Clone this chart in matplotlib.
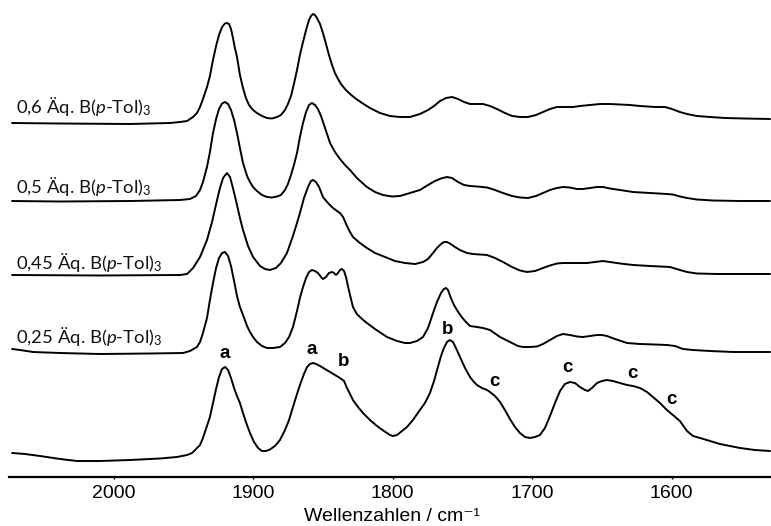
import matplotlib
matplotlib.use("Agg")
import matplotlib.pyplot as plt

plt.rcParams['mathtext.fontset'] = 'custom'
plt.rcParams['mathtext.rm'] = 'Lato'
plt.rcParams['mathtext.it'] = 'Lato:italic'
plt.rcParams['mathtext.bf'] = 'Lato:bold'

# ---------------- data: (wavenumber / cm-1, relative intensity) ----------------
spec_06 = [(2072.7, 0), (2038.3, -0.5), (1988.2, -1), (1959.5, 0), (1952.3, 1), (1947.3, 2),
           (1943.0, 6), (1940.2, 10), (1938.0, 16), (1935.9, 24), (1933.0, 36), (1930.9, 47),
           (1928.7, 63), (1926.5, 77), (1924.4, 88), (1922.2, 96), (1920.1, 99.5), (1918.7, 100),
           (1917.2, 99), (1915.8, 94), (1914.4, 85), (1913.0, 75), (1911.5, 66), (1909.4, 48),
           (1907.2, 35), (1905.1, 25), (1902.9, 18), (1900.0, 13), (1897.2, 10), (1893.6, 7),
           (1890.0, 5), (1886.4, 4.5), (1882.8, 6), (1880.0, 8), (1877.1, 13), (1875.0, 19),
           (1872.8, 27), (1870.7, 39), (1868.5, 53), (1866.4, 68), (1864.2, 81), (1862.0, 93),
           (1859.9, 103), (1858.5, 107), (1857.0, 109), (1855.6, 108), (1854.2, 105), (1852.0, 99),
           (1849.9, 90), (1847.7, 79), (1845.6, 68), (1843.4, 58), (1841.3, 50), (1839.1, 44),
           (1837.0, 39), (1834.1, 34), (1830.5, 29), (1827.0, 25), (1821.9, 20), (1816.2, 15),
           (1809.0, 10), (1801.9, 7), (1794.7, 6), (1787.5, 6), (1780.4, 9), (1774.6, 13),
           (1770.3, 17), (1766.0, 22), (1761.7, 25), (1757.4, 26), (1753.1, 24), (1748.8, 21),
           (1744.5, 19), (1739.5, 19), (1735.2, 19), (1730.2, 17), (1725.2, 14), (1719.5, 10),
           (1714.4, 7), (1708.7, 6), (1703.0, 6), (1697.2, 8), (1692.2, 11), (1687.2, 14),
           (1682.2, 16), (1676.5, 16), (1670.7, 16), (1665.7, 17), (1658.5, 18), (1651.4, 19),
           (1644.2, 19), (1637.0, 18.5), (1629.9, 18), (1622.7, 17), (1611.9, 16), (1604.8, 16),
           (1599.8, 14), (1594.1, 11), (1589.0, 9), (1581.9, 7), (1572.5, 6), (1561.8, 5),
           (1547.5, 4.5), (1529.5, 4)]

spec_05 = [(2072.7, 0), (2038.3, -0.5), (1988.2, 0), (1952.3, 1), (1945.2, 2), (1940.9, 5),
           (1938.0, 11), (1935.9, 19), (1933.0, 34), (1930.9, 49), (1928.7, 68), (1926.5, 82),
           (1924.4, 92), (1922.2, 97.5), (1920.1, 99), (1917.9, 97), (1915.8, 91), (1913.6, 81),
           (1911.5, 68), (1909.4, 53), (1907.2, 38), (1904.3, 25), (1902.2, 19), (1900.0, 14),
           (1897.2, 10), (1893.6, 6), (1890.0, 4), (1886.4, 3.5), (1882.8, 4.5), (1880.0, 6),
           (1877.1, 11), (1875.0, 17), (1872.8, 26), (1870.7, 36), (1868.5, 48), (1866.4, 64),
           (1864.2, 78), (1862.0, 89), (1859.9, 96), (1857.8, 98), (1855.6, 96), (1853.5, 92),
           (1851.3, 85), (1848.4, 73), (1844.8, 58), (1841.3, 49), (1837.7, 42), (1834.1, 36),
           (1830.5, 31), (1825.6, 23), (1818.4, 14), (1812.6, 9), (1806.9, 6), (1800.4, 4.5),
           (1794.7, 5), (1787.5, 8), (1780.4, 11), (1774.6, 16), (1769.6, 20), (1765.3, 22.5),
           (1761.0, 24), (1757.4, 23), (1753.1, 19), (1748.8, 16), (1744.5, 15), (1739.5, 14.5),
           (1732.3, 13.5), (1726.6, 11), (1720.9, 8), (1714.4, 5), (1708.7, 3.5), (1703.0, 3),
           (1697.2, 5), (1692.2, 8), (1687.2, 11), (1682.2, 13), (1677.9, 14), (1672.9, 13.5),
           (1667.9, 12), (1663.6, 12), (1658.5, 13), (1653.5, 14), (1649.2, 14), (1644.2, 12.5),
           (1637.0, 11), (1627.7, 9), (1615.5, 8), (1603.4, 7), (1599.1, 6.5), (1594.1, 4.5),
           (1589.0, 3), (1581.9, 1.5), (1570.4, 0.5), (1551.0, 0), (1529.5, 0)]

spec_045 = [(2072.7, 0), (2009.7, -0.5), (1952.3, 0), (1947.3, 1), (1943.0, 7), (1938.0, 18),
            (1933.0, 35), (1929.4, 53), (1925.8, 75), (1923.7, 87), (1921.5, 97), (1918.7, 102),
            (1916.5, 98), (1914.4, 87), (1911.5, 70), (1909.4, 57), (1907.2, 45), (1903.6, 29),
            (1900.0, 18), (1895.0, 9), (1891.4, 6), (1887.9, 5), (1883.6, 7), (1880.0, 12),
            (1875.7, 22), (1871.4, 39), (1868.5, 52), (1866.4, 62), (1863.5, 77), (1860.6, 88),
            (1858.5, 94), (1857.0, 95), (1854.9, 93), (1852.7, 88), (1849.9, 78), (1846.3, 72),
            (1842.7, 67), (1839.8, 64), (1837.7, 62), (1835.5, 58), (1832.7, 49), (1830.5, 43),
            (1828.4, 38), (1823.4, 32), (1818.4, 27), (1812.6, 22), (1805.4, 18), (1798.3, 14),
            (1791.1, 12), (1783.9, 11), (1778.2, 13), (1774.6, 16), (1771.0, 22), (1768.2, 27),
            (1765.3, 31), (1763.2, 33), (1761.0, 33), (1758.9, 31.5), (1755.3, 28), (1751.7, 25),
            (1746.7, 22), (1742.4, 21), (1737.4, 20.5), (1732.3, 20), (1726.6, 17), (1720.9, 13),
            (1714.4, 8), (1708.7, 4.5), (1703.7, 3), (1697.9, 4), (1692.2, 7), (1687.2, 9.5),
            (1682.2, 11.5), (1677.9, 12), (1672.9, 12), (1665.7, 12), (1660.7, 12), (1655.0, 13),
            (1649.2, 14), (1644.2, 13), (1637.0, 11.5), (1627.7, 10), (1615.5, 9), (1601.2, 8),
            (1594.1, 5), (1589.0, 3), (1581.9, 1.5), (1567.5, 1), (1529.5, 1)]

spec_025 = [(2072.7, 5), (2067.0, 4), (2057.7, 2), (2038.3, 1), (2009.7, 0), (1973.8, 0.5),
            (1950.2, 1), (1945.2, 3), (1940.2, 7), (1938.0, 12), (1935.9, 21), (1933.0, 36),
            (1930.9, 54), (1928.7, 71), (1926.5, 86), (1924.4, 96), (1922.2, 101), (1920.1, 102),
            (1917.9, 98), (1915.8, 88), (1913.6, 73), (1911.5, 58), (1909.4, 47), (1907.2, 39),
            (1904.3, 28), (1902.2, 22), (1900.0, 17), (1897.2, 12), (1893.6, 8), (1890.0, 6),
            (1885.7, 6), (1880.7, 7), (1877.1, 11), (1874.2, 17), (1871.4, 27), (1868.5, 43),
            (1866.4, 56), (1864.2, 67), (1862.0, 76), (1859.9, 82), (1857.8, 84), (1855.6, 83),
            (1853.5, 81), (1851.3, 77), (1849.9, 75), (1847.7, 77), (1845.6, 81), (1843.4, 82),
            (1842.0, 81), (1840.6, 79), (1839.1, 81), (1837.7, 84), (1836.3, 85), (1834.8, 83),
            (1833.4, 77), (1832.0, 68), (1830.5, 59), (1828.4, 47), (1825.6, 40), (1821.9, 35),
            (1818.4, 31), (1812.6, 25), (1804.0, 17), (1796.8, 13), (1791.1, 11), (1787.5, 11),
            (1782.5, 13), (1778.2, 17), (1774.6, 26), (1771.0, 41), (1768.2, 52), (1765.3, 61),
            (1763.2, 65), (1761.7, 66), (1760.3, 64), (1758.2, 56), (1756.0, 49), (1753.9, 44),
            (1751.0, 38), (1748.1, 33), (1744.5, 28), (1739.5, 27), (1735.2, 26), (1730.2, 24),
            (1723.0, 17), (1715.9, 12), (1710.1, 8), (1706.6, 7), (1701.5, 7), (1696.5, 7.5),
            (1692.2, 10), (1687.2, 14), (1682.2, 18), (1677.9, 20), (1672.9, 19), (1667.9, 17.5),
            (1663.6, 17), (1658.5, 18), (1653.5, 19), (1649.9, 19), (1646.4, 18), (1640.6, 15),
            (1632.0, 11), (1622.7, 10), (1611.9, 9.5), (1603.4, 9), (1597.6, 8), (1591.9, 5),
            (1584.7, 4), (1572.5, 3), (1556.0, 2), (1529.5, 2)]

spec_ref = [(2072.7, 8), (2063.4, 7), (2052.7, 5), (2038.3, 2), (2026.1, 0), (2009.7, 0),
            (1988.2, 1), (1966.7, 2.5), (1954.5, 4), (1947.3, 6), (1943.7, 8), (1940.9, 12),
            (1938.0, 16), (1935.9, 23), (1933.0, 35), (1930.9, 44), (1928.7, 58), (1926.5, 72),
            (1924.4, 84), (1922.2, 92), (1920.1, 94), (1917.9, 91), (1915.8, 83), (1913.6, 73),
            (1911.5, 65), (1909.4, 58), (1907.2, 48), (1905.1, 39), (1902.2, 28), (1899.3, 19),
            (1896.4, 13), (1893.6, 10), (1890.7, 10), (1887.9, 11.5), (1884.3, 15), (1880.7, 21),
            (1877.1, 31), (1874.2, 41), (1871.4, 54), (1868.5, 67), (1866.4, 76), (1863.5, 87),
            (1861.3, 94), (1859.2, 97), (1857.0, 98), (1854.9, 97), (1852.0, 95), (1848.4, 92),
            (1844.8, 89), (1841.3, 86), (1837.7, 83), (1834.8, 80), (1832.7, 73), (1830.5, 67),
            (1828.4, 61), (1824.8, 54), (1821.2, 48), (1816.2, 41), (1811.2, 35), (1806.2, 30),
            (1801.9, 26), (1799.7, 25), (1796.8, 26), (1793.3, 30), (1789.7, 34), (1785.4, 41),
            (1780.4, 51), (1776.8, 58), (1773.2, 68), (1770.3, 80), (1767.5, 94), (1765.3, 105),
            (1763.2, 113), (1761.0, 119), (1758.9, 121), (1756.7, 119), (1754.6, 113), (1751.7, 104),
            (1748.1, 93), (1744.5, 84), (1741.7, 79), (1739.5, 76), (1736.0, 73), (1732.3, 71),
            (1730.2, 69), (1726.6, 65), (1723.0, 59), (1719.5, 51), (1715.9, 42), (1712.3, 34),
            (1708.7, 28), (1705.1, 24), (1701.5, 23), (1697.9, 24), (1694.4, 26), (1690.8, 33),
            (1687.2, 45), (1683.6, 58), (1680.0, 70), (1676.5, 77), (1672.9, 79), (1669.3, 78),
            (1665.7, 74), (1662.1, 71), (1660.0, 70), (1657.1, 73), (1653.5, 78), (1649.9, 80),
            (1646.4, 81), (1642.1, 80), (1637.0, 78), (1632.0, 76), (1627.7, 75), (1622.7, 73),
            (1617.7, 69), (1613.4, 64), (1608.4, 58), (1603.4, 51), (1599.1, 46), (1594.1, 40),
            (1589.0, 30), (1584.7, 25), (1579.7, 23), (1572.5, 20), (1565.4, 17), (1558.2, 15),
            (1551.0, 13), (1540.3, 11), (1529.5, 10)]

spectra = [spec_06, spec_05, spec_045, spec_025, spec_ref]
labels = ["0,6", "0,5", "0,45", "0,25", None]

peak_letters = ["a", "a", "b", "b", "c", "c", "c", "c"]
peak_wn = [1920.1, 1857.8, 1835.5, 1760.3, 1727.3, 1675.0, 1628.4, 1599.8]

xticks = [2000, 1900, 1800, 1700, 1600]

# ---------------- layout ----------------
offsets = [354, 276, 202, 123, 16]
label_y = [364, 284, 208, 134]
peak_y = [123, 128, 115, 148, 95, 110, 103, 77]

fig = plt.figure(figsize=(7.71, 5.26), dpi=100)
ax = fig.add_axes([9 / 771, 49 / 526, 762 / 771, 477 / 526])

for spec, off in zip(spectra, offsets):
    w = [p[0] for p in spec]
    iv = [p[1] + off for p in spec]
    ax.plot(w, iv, color='black', lw=1.4,
            solid_joinstyle='round', solid_capstyle='round')

for lab, y in zip(labels, label_y):
    if lab is None:
        continue
    ax.text(2069.9, y, lab + r" Äq. B($\mathit{p}$-Tol)$_3$", fontsize=13.3,
            family='Lato', ha='left', va='baseline', color='#111111')

for t, w, y in zip(peak_letters, peak_wn, peak_y):
    ax.text(w, y, t, fontsize=13.5, family='Liberation Sans', fontweight='bold',
            ha='center', va='center')

ax.set_xlim(2074.9, 1528.8)
ax.set_ylim(0, 477)
for s in ['top', 'left', 'right']:
    ax.spines[s].set_visible(False)
ax.spines['bottom'].set_linewidth(1.6)
ax.set_yticks([])
ax.set_xticks(xticks)
ax.set_xticklabels([str(t) for t in xticks], family='Liberation Sans', fontsize=14)
ax.tick_params(axis='x', direction='out', length=1.5, width=1, pad=4)

fig.text(392 / 771, 5 / 526, "Wellenzahlen / cm⁻¹", ha='center', va='baseline',
         fontsize=14, family=['Liberation Sans', 'DejaVu Sans'])

fig.savefig("out.png", dpi=100)
